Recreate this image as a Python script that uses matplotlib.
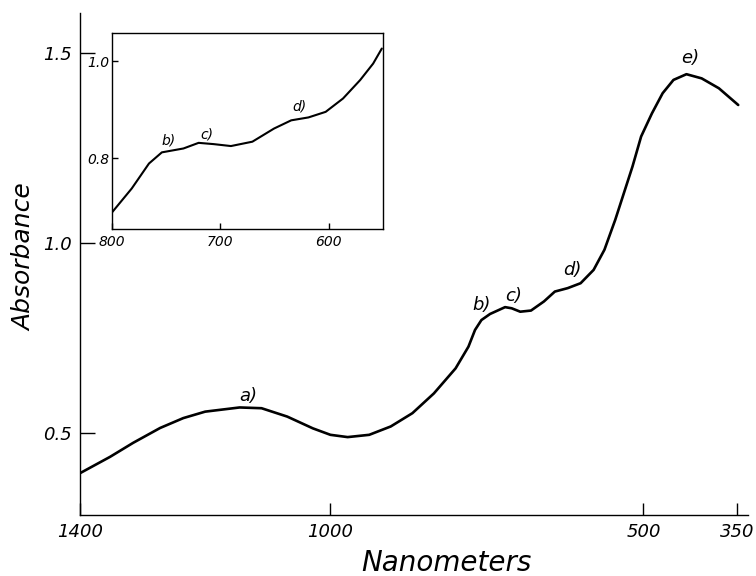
import matplotlib
matplotlib.use("Agg")
import matplotlib.pyplot as plt

# main spectrum
wavelength = [1400, 1352, 1315, 1272, 1235, 1200, 1145, 1110, 1069, 1028, 1000, 972.5, 938,
              903.6, 869, 834.7, 800, 779.5, 769, 758.8, 745, 721, 710.5, 696.8, 679.6,
              658.9, 641.5, 621, 600.3, 579.6, 562.3, 545, 527.9, 517.5, 503.7, 486.4,
              469.3, 452, 431.3, 407, 379.5, 348.6]
absorbance = [0.394, 0.437, 0.474, 0.513, 0.539, 0.556, 0.567, 0.565, 0.543, 0.512, 0.495, 0.489, 0.495,
              0.517, 0.552, 0.604, 0.670, 0.727, 0.771, 0.797, 0.813, 0.831, 0.828, 0.819, 0.822,
              0.846, 0.872, 0.881, 0.894, 0.929, 0.982, 1.061, 1.148, 1.201, 1.280, 1.341,
              1.394, 1.429, 1.444, 1.433, 1.407, 1.363]

# inset, expanded 800-550 nm
inset_wl = [799.6, 781.7, 765.8, 753.9, 734, 720, 706.2, 690.2, 670.4, 650.5, 634.6,
            618.7, 602.8, 586.8, 571, 559, 551]
inset_abs = [0.689, 0.7375, 0.789, 0.812, 0.820, 0.8316, 0.829, 0.825, 0.834, 0.861, 0.878,
             0.884, 0.8955, 0.923, 0.961, 0.995, 1.026]

main_xticks = [1400, 1000, 500, 350]
main_yticks = [0.5, 1.0, 1.5]
inset_xticks = [800, 700, 600]
inset_yticks = [0.8, 1.0]

peak_labels = ["a)", "b)", "c)", "d)", "e)"]
peak_x = [1131, 759, 707, 614, 424.5]
peak_y = [0.596, 0.837, 0.859, 0.929, 1.486]

inset_labels = ["b)", "c)", "d)"]
inset_lx = [748, 712, 627]
inset_ly = [0.837, 0.849, 0.906]

plt.rcParams['font.family'] = 'DejaVu Sans'
plt.rcParams['font.style'] = 'italic'

fig = plt.figure(figsize=(7.56, 5.76), dpi=100)
ax = fig.add_axes([0.1058, 0.1059, 0.8836, 0.8715])

ax.plot(wavelength, absorbance, color='black', lw=1.9,
        solid_joinstyle='round', solid_capstyle='round')
ax.set_xlim(1400, 333)
ax.set_ylim(0.284, 1.605)
ax.spines['top'].set_visible(False)
ax.spines['right'].set_visible(False)
for s in ['left', 'bottom']:
    ax.spines[s].set_linewidth(1.0)
ax.set_xticks(main_xticks)
ax.set_xticklabels([str(t) for t in main_xticks])
ax.set_yticks(main_yticks)
ax.set_yticklabels(["0.5", "1.0", "1.5"])
ax.tick_params(axis='y', direction='in', length=11, width=1.0, labelsize=13, pad=6)
ax.tick_params(axis='x', direction='in', length=8.5, width=1.0, labelsize=13, pad=6)

ax.set_xlabel("Nanometers", fontsize=20, va='center')
ax.xaxis.set_label_coords(0.549, -0.095)
ax.set_ylabel("Absorbance", fontsize=18, va='center')
ax.yaxis.set_label_coords(-0.084, 0.514)

for lab, x, y in zip(peak_labels, peak_x, peak_y):
    ax.text(x, y, lab, fontsize=13, ha='center', va='center')

# inset
axin = fig.add_axes([0.148, 0.6024, 0.3585, 0.3403])
axin.plot(inset_wl, inset_abs, color='black', lw=1.5,
          solid_joinstyle='round', solid_capstyle='round')
axin.set_xlim(800, 550)
axin.set_ylim(0.654, 1.058)
for s in axin.spines.values():
    s.set_linewidth(1.0)
axin.set_xticks(inset_xticks)
axin.set_xticklabels([str(t) for t in inset_xticks])
axin.set_yticks(inset_yticks)
axin.set_yticklabels(["0.8", "1.0"])
axin.tick_params(axis='x', direction='in', length=4, width=1.0, labelsize=10, pad=4)
axin.tick_params(axis='y', direction='in', length=4, width=1.0, labelsize=10, pad=1.5)
for lab, x, y in zip(inset_labels, inset_lx, inset_ly):
    axin.text(x, y, lab, fontsize=10, ha='center', va='center')

plt.savefig("out.png", dpi=100)
